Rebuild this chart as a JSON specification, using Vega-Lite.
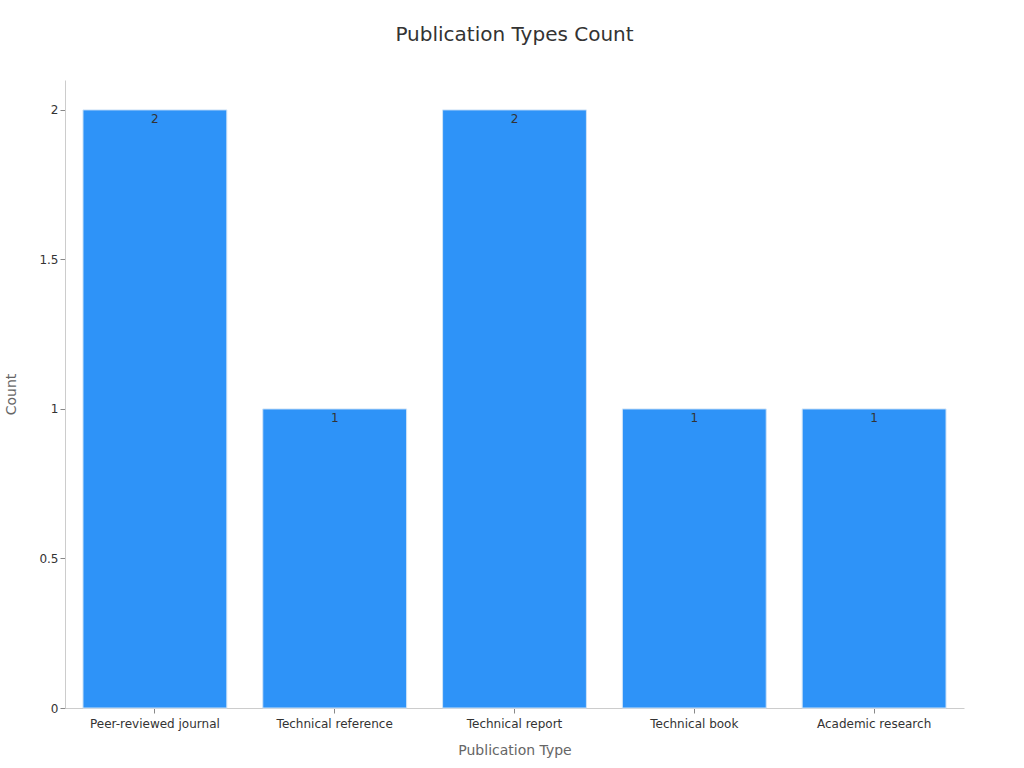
{
  "$schema": "https://vega.github.io/schema/vega-lite/v6.json",
  "width": 899,
  "height": 628,
  "padding": {"left": 4, "top": 25, "right": 5, "bottom": 5},
  "config": {
    "font": "DejaVu Sans",
    "view": {"stroke": "transparent"},
    "title": {"fontSize": 20, "fontWeight": "normal", "color": "#333333", "offset": 35},
    "axis": {
      "labelFontSize": 12,
      "labelColor": "#333333",
      "titleFontSize": 14,
      "titleFontWeight": "normal",
      "titleColor": "#666666",
      "domainColor": "#cccccc",
      "tickColor": "#888888",
      "grid": false
    }
  },
  "title": "Publication Types Count",
  "data": {
    "values": [
      {"type": "Peer-reviewed journal", "count": 2},
      {"type": "Technical reference", "count": 1},
      {"type": "Technical report", "count": 2},
      {"type": "Technical book", "count": 1},
      {"type": "Academic research", "count": 1}
    ]
  },
  "encoding": {
    "x": {
      "field": "type",
      "type": "nominal",
      "sort": null,
      "title": "Publication Type",
      "scale": {"paddingInner": 0.2, "paddingOuter": 0.1},
      "axis": {"labelAngle": 0, "labelPadding": 5, "titlePadding": 14}
    },
    "y": {
      "field": "count",
      "type": "quantitative",
      "title": "Count",
      "scale": {"domain": [0, 2.1], "nice": false},
      "axis": {"values": [0, 0.5, 1, 1.5, 2], "format": "~g", "titlePadding": 20}
    }
  },
  "layer": [
    {
      "mark": {"type": "bar", "color": "#2E93F8", "stroke": "#cfe3f7", "strokeWidth": 1}
    },
    {
      "mark": {"type": "text", "baseline": "top", "dy": 4, "fontSize": 12, "color": "#333333"},
      "encoding": {"text": {"field": "count", "type": "quantitative"}}
    }
  ]
}
